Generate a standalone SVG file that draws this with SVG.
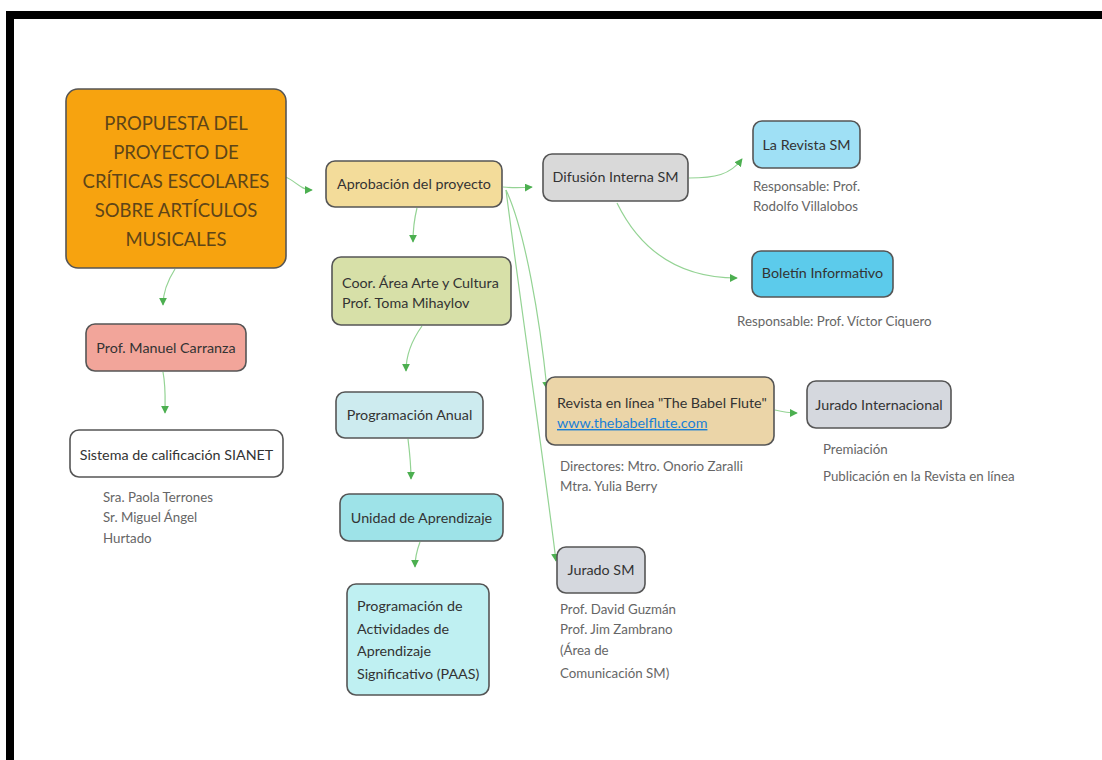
<svg xmlns="http://www.w3.org/2000/svg" width="1102" height="760" viewBox="0 0 1102 760">
<defs>
<marker id="ah" viewBox="0 0 10 10" refX="9" refY="5" markerWidth="8" markerHeight="8" markerUnits="userSpaceOnUse" orient="auto">
<path d="M0,0 L10,5 L0,10 Z" fill="#4caf50"/>
</marker>
<style>
.box{stroke:#555;stroke-width:1.6}
.t{font-family:Lato,"Noto Sans",sans-serif;font-size:14.3px;fill:#333}
.c{text-anchor:middle}
.title{font-family:Lato,"Noto Sans",sans-serif;font-size:18.5px;fill:#5e4518;text-anchor:middle}
.n{font-family:Lato,"Noto Sans",sans-serif;font-size:13.3px;fill:#666}
.link{fill:#1a7fd6;text-decoration:underline}
.conn{fill:none;stroke:#94d394;stroke-width:1.2;marker-end:url(#ah)}
</style>
</defs>
<rect width="1102" height="760" fill="#fff"/>
<rect x="6" y="11" width="1096" height="8" fill="#000"/>
<rect x="6" y="11" width="8" height="749" fill="#000"/>

<g id="connectors">
<path class="conn" d="M285,177 C295,180 300,190 312,190"/>
<path class="conn" d="M175,269 C168,280 163,292 163,305"/>
<path class="conn" d="M163,372 C166,388 165,400 165,413"/>
<path class="conn" d="M503,187 C512,188 520,188 532,187"/>
<path class="conn" d="M417,208 C414,220 413,230 413,242"/>
<path class="conn" d="M422,326 C412,340 406,355 406,371"/>
<path class="conn" d="M408,439 C410,455 411,465 411,479"/>
<path class="conn" d="M420,542 C417,550 415,558 415,567"/>
<path class="conn" d="M506,190 C525,230 540,320 547,389"/>
<path class="conn" d="M506,190 C520,300 545,470 556,561"/>
<path class="conn" d="M689,178 C715,178 730,175 742,159"/>
<path class="conn" d="M617,203 C645,260 690,278 737,278"/>
<path class="conn" d="M775,410 C783,412 788,413 797,413"/>
</g>

<g id="n-propuesta">
<rect class="box" x="66" y="89" width="220" height="179" rx="12" fill="#f7a30f"/>
<text class="title" x="176" y="130">PROPUESTA DEL</text>
<text class="title" x="176" y="159">PROYECTO DE</text>
<text class="title" x="176" y="188">CRÍTICAS ESCOLARES</text>
<text class="title" x="176" y="217">SOBRE ARTÍCULOS</text>
<text class="title" x="176" y="246">MUSICALES</text>
</g>

<g id="n-aprobacion">
<rect class="box" x="326" y="161" width="176" height="46" rx="9" fill="#f3dc9a"/>
<text class="t c" x="414" y="189">Aprobación del proyecto</text>
</g>

<g id="n-difusion">
<rect class="box" x="543" y="154" width="145" height="47" rx="9" fill="#d9d9d9"/>
<text class="t c" x="615.5" y="182">Difusión Interna SM</text>
</g>

<g id="n-revista-sm">
<rect class="box" x="753" y="121" width="107" height="47" rx="9" fill="#9fe0f5"/>
<text class="t c" x="806.5" y="150">La Revista SM</text>
<text class="n" x="753" y="191">Responsable: Prof.</text>
<text class="n" x="753" y="211">Rodolfo Villalobos</text>
</g>

<g id="n-boletin">
<rect class="box" x="752" y="251" width="141" height="46" rx="9" fill="#5ccbeb"/>
<text class="t c" x="822.5" y="278">Boletín Informativo</text>
<text class="n" x="737" y="326">Responsable: Prof. Víctor Ciquero</text>
</g>

<g id="n-coor">
<rect class="box" x="332" y="257" width="179" height="68" rx="9" fill="#d7e0a8"/>
<text class="t" x="342" y="288">Coor. Área Arte y Cultura</text>
<text class="t" x="342" y="308">Prof. Toma Mihaylov</text>
</g>

<g id="n-carranza">
<rect class="box" x="86" y="324" width="160" height="47" rx="9" fill="#f2a59a"/>
<text class="t c" x="166" y="353">Prof. Manuel Carranza</text>
</g>

<g id="n-sianet">
<rect class="box" x="70" y="430" width="213" height="47" rx="9" fill="#fff"/>
<text class="t c" x="176.5" y="460">Sistema de calificación SIANET</text>
<text class="n" x="103" y="502">Sra. Paola Terrones</text>
<text class="n" x="103" y="522">Sr. Miguel Ángel</text>
<text class="n" x="103" y="543">Hurtado</text>
</g>

<g id="n-revista-linea">
<rect class="box" x="546" y="377" width="228" height="68" rx="9" fill="#ebd5a8"/>
<text class="t" x="557" y="408">Revista en línea "The Babel Flute"</text>
<text class="t link" x="557" y="428">www.thebabelflute.com</text>
<text class="n" x="560" y="471">Directores: Mtro. Onorio Zaralli</text>
<text class="n" x="560" y="491">Mtra. Yulia Berry</text>
</g>

<g id="n-jurado-int">
<rect class="box" x="807" y="381" width="144" height="47" rx="9" fill="#d5d8de"/>
<text class="t c" x="879" y="410">Jurado Internacional</text>
<text class="n" x="823" y="454">Premiación</text>
<text class="n" x="823" y="481">Publicación en la Revista en línea</text>
</g>

<g id="n-prog-anual">
<rect class="box" x="336" y="392" width="147" height="46" rx="9" fill="#cdebef"/>
<text class="t c" x="409.5" y="420">Programación Anual</text>
</g>

<g id="n-unidad">
<rect class="box" x="340" y="494" width="163" height="47" rx="9" fill="#9ee3e8"/>
<text class="t c" x="421.5" y="523">Unidad de Aprendizaje</text>
</g>

<g id="n-paas">
<rect class="box" x="347" y="584" width="142" height="111" rx="9" fill="#bff0f2"/>
<text class="t" x="357" y="611">Programación de</text>
<text class="t" x="357" y="634">Actividades de</text>
<text class="t" x="357" y="656">Aprendizaje</text>
<text class="t" x="357" y="679">Significativo (PAAS)</text>
</g>

<g id="n-jurado-sm">
<rect class="box" x="557" y="547" width="88" height="46" rx="9" fill="#d5d8de"/>
<text class="t c" x="601" y="575">Jurado SM</text>
<text class="n" x="560" y="614">Prof. David Guzmán</text>
<text class="n" x="560" y="634">Prof. Jim Zambrano</text>
<text class="n" x="560" y="655">(Área de</text>
<text class="n" x="560" y="678">Comunicación SM)</text>
</g>
</svg>
